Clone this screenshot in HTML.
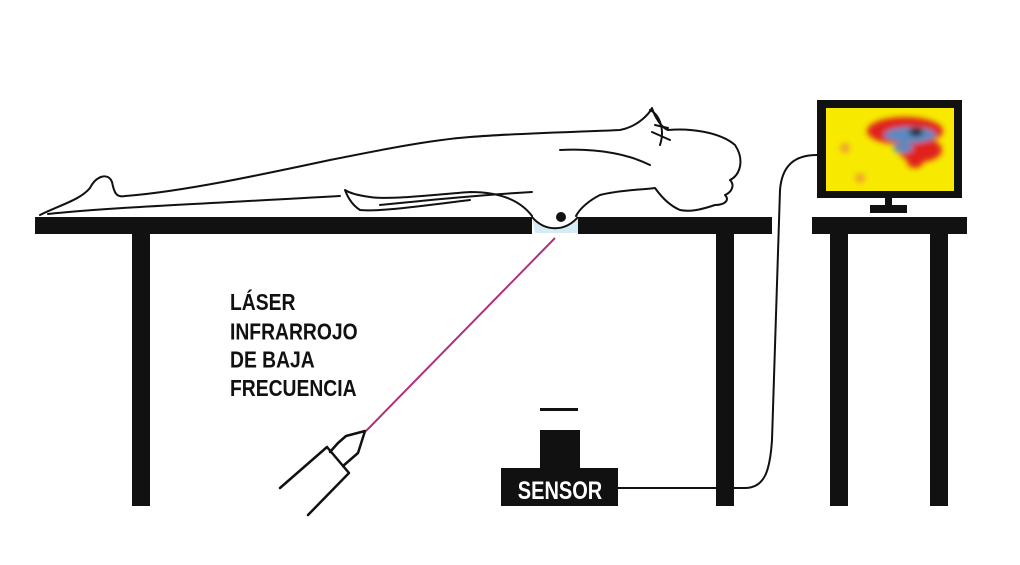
<!DOCTYPE html>
<html><head><meta charset="utf-8"><style>
body{margin:0;width:1020px;height:560px;background:#fff;overflow:hidden}
</style></head><body>
<svg width="1020" height="560" viewBox="0 0 1020 560" xmlns="http://www.w3.org/2000/svg">
<defs>
<filter id="bl"><feGaussianBlur stdDeviation="3"/></filter>
<clipPath id="scr"><rect x="826" y="108" width="128" height="83"/></clipPath>
</defs>
<!-- body outline -->
<g fill="none" stroke="#111" stroke-width="2" stroke-linejoin="round" stroke-linecap="round">
<path d="M40,215 C60,205 80,200 90,188 C96,176 108,172 112,182 C114,192 116,198 125,196 C180,192 260,175 330,160 C380,150 430,140 470,137 C520,133 580,132 620,130 C640,126 650,112 652,108 C655,118 662,128 668,130 C690,128 720,132 735,145 C745,160 740,175 730,180 C735,185 732,192 725,195 C730,200 725,205 715,205 C700,210 690,212 680,210 C668,205 660,195 655,188 C640,190 620,190 600,195 C590,200 580,208 576,216"/>
<path d="M532,216 C520,200 500,192 470,192 C430,195 390,200 370,197 C355,195 348,192 345,190 C348,198 352,205 360,210 C380,212 430,205 470,200"/>
<path d="M48,214 C100,208 200,204 340,196"/>
<path d="M380,205 C430,200 480,195 532,192"/>
<path d="M650,110 C660,115 665,130 660,145 M655,125 L668,128 M652,132 L670,140"/>
<path d="M560,150 C600,148 630,155 650,165"/>
</g>
<!-- table -->
<rect x="35" y="217" width="497" height="17" fill="#111"/>
<rect x="578" y="217" width="194" height="17" fill="#111"/>
<path d="M532,217 L535,233 L578,233 L578,217 C568,230 545,232 532,217Z" fill="#d5ecf4"/>
<path d="M532,217 C545,232 565,232 578,217" fill="none" stroke="#111" stroke-width="2"/>
<circle cx="561" cy="217" r="5" fill="#111"/>
<rect x="132" y="234" width="18" height="272" fill="#111"/>
<rect x="716" y="234" width="18" height="272" fill="#111"/>
<rect x="812" y="217" width="155" height="17" fill="#111"/>
<rect x="830" y="234" width="18" height="272" fill="#111"/>
<rect x="930" y="234" width="18" height="272" fill="#111"/>
<!-- monitor -->
<rect x="817" y="100" width="145" height="98" fill="#111"/>
<rect x="826" y="108" width="128" height="83" fill="#f7ea00"/>
<g clip-path="url(#scr)" filter="url(#bl)">
<ellipse cx="905" cy="131" rx="38" ry="14" fill="#e0241a"/>
<ellipse cx="920" cy="150" rx="22" ry="12" fill="#e0241a"/>
<ellipse cx="915" cy="162" rx="8" ry="6" fill="#e0241a"/>
<ellipse cx="910" cy="135" rx="26" ry="8" fill="#5a8ac0"/>
<ellipse cx="903" cy="148" rx="10" ry="5" fill="#5a8ac0"/>
<ellipse cx="916" cy="132" rx="7" ry="4" fill="#111"/>
<circle cx="845" cy="148" r="5" fill="#f0a030"/>
<circle cx="860" cy="178" r="5" fill="#f0a030"/>
</g>
<rect x="885" y="198" width="7" height="8" fill="#111"/>
<rect x="870" y="205" width="37" height="8" fill="#111"/>
<!-- cable -->
<path d="M618,488 L745,488 C765,488 770,470 772,440 L780,190 C782,165 795,155 817,155" fill="none" stroke="#111" stroke-width="2"/>
<!-- sensor -->
<rect x="540" y="408" width="38" height="3" fill="#111"/>
<rect x="540" y="430" width="40" height="40" fill="#111"/>
<rect x="501" y="468" width="117" height="38" fill="#111"/>
<text x="560" y="499" text-anchor="middle" font-family="Liberation Sans, sans-serif" font-size="25" fill="#fff" font-weight="bold" transform="translate(560 0) scale(0.8 1) translate(-560 0)">SENSOR</text>
<!-- laser -->
<line x1="555" y1="238" x2="366" y2="431" stroke="#b0307a" stroke-width="2"/>
<g fill="none" stroke="#111" stroke-width="2.5" stroke-linejoin="round" stroke-linecap="round">
<path d="M280,488 L327,447 L349,473 L308,515"/>
<path d="M330,452 L338,443 L346,436 L365,431 L358,453 L343,466"/>
</g>
<g font-family="Liberation Sans, sans-serif" font-size="21" fill="#111" font-weight="bold" transform="translate(230 0) scale(0.92 1.08) translate(-230 0)">
<text x="230" y="287">LÁSER</text>
<text x="230" y="314.5">INFRARROJO</text>
<text x="230" y="340.5">DE BAJA</text>
<text x="230" y="366.5">FRECUENCIA</text>
</g>
</svg>
</body></html>
